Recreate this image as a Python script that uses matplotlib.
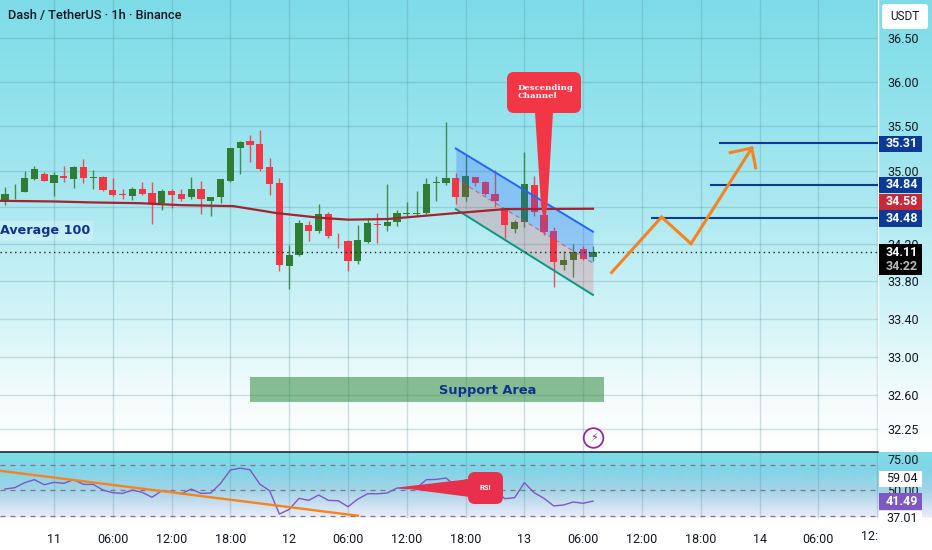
import matplotlib
matplotlib.use("Agg")
import matplotlib.pyplot as plt
from matplotlib.patches import FancyBboxPatch, Polygon, Rectangle, Circle
from matplotlib.ticker import NullLocator, NullFormatter
import numpy as np

plt.rcParams['font.family'] = ['Roboto', 'DejaVu Sans']

# candles, hour 0 = midnight of the 11th
hours = list(range(-5, 56))
opens = [34.67, 34.772, 34.768, 34.902, 34.967, 34.866, 34.945, 34.906, 35.043, 34.920,
         34.931, 34.790, 34.739, 34.717, 34.801, 34.754, 34.638, 34.775, 34.746, 34.707,
         34.801, 34.667, 34.710, 34.887, 35.249, 35.332, 35.300, 35.043, 34.859, 33.962,
         34.081, 34.403, 34.341, 34.522, 34.298, 34.233, 34.012, 34.222, 34.414, 34.396,
         34.439, 34.526, 34.522, 34.533, 34.866, 34.866, 34.913, 34.707, 34.924, 34.873,
         34.743, 34.569, 34.356, 34.439, 34.840, 34.511, 34.338, 33.972, 34.019, 34.142,
         34.059]
closes = [34.746, 34.779, 34.913, 35.018, 34.884, 34.956, 34.916, 35.043, 34.920, 34.934,
          34.786, 34.732, 34.732, 34.801, 34.746, 34.638, 34.775, 34.736, 34.689, 34.801,
          34.692, 34.714, 34.902, 35.246, 35.321, 35.282, 35.021, 34.851, 33.972, 34.074,
          34.424, 34.341, 34.519, 34.287, 34.291, 34.012, 34.244, 34.424, 34.406, 34.439,
          34.533, 34.533, 34.529, 34.848, 34.873, 34.913, 34.707, 34.938, 34.862, 34.739,
          34.660, 34.399, 34.435, 34.848, 34.544, 34.323, 33.998, 34.019, 34.113, 34.034,
          34.11]
highs = [34.819, 34.855, 35.000, 35.054, 34.989, 34.985, 35.054, 35.054, 35.126, 35.010,
         34.945, 34.916, 34.801, 34.815, 34.873, 34.873, 34.793, 34.793, 34.801, 34.934,
         34.880, 34.714, 34.902, 35.246, 35.329, 35.397, 35.452, 35.137, 34.920, 34.189,
         34.461, 34.446, 34.627, 34.540, 34.316, 34.240, 34.403, 34.475, 34.533, 34.848,
         34.562, 34.649, 34.779, 34.916, 34.938, 35.542, 34.974, 35.173, 34.931, 34.880,
         35.003, 34.576, 34.461, 35.202, 34.938, 34.667, 34.377, 34.124, 34.197, 34.178,
         34.171]
lows = [34.620, 34.685, 34.768, 34.891, 34.880, 34.717, 34.877, 34.811, 34.866, 34.801,
        34.779, 34.721, 34.692, 34.674, 34.736, 34.417, 34.566, 34.587, 34.667, 34.685,
        34.526, 34.504, 34.642, 34.873, 34.963, 35.090, 34.996, 34.736, 33.907, 33.716,
        34.070, 34.233, 34.312, 34.265, 34.150, 33.907, 33.980, 34.207, 34.204, 34.341,
        34.396, 34.504, 34.504, 34.522, 34.670, 34.837, 34.631, 34.667, 34.830, 34.728,
        34.594, 34.258, 34.312, 34.385, 34.504, 34.298, 33.734, 33.918, 33.846, 34.019,
        34.016]

ma_hours = [-5.5, 0, 4, 8.8, 12.9, 18.3, 22.7, 27.1, 30, 34, 40.6, 46, 55]
ma_values = [34.667, 34.66, 34.649, 34.641, 34.62, 34.609, 34.533, 34.482, 34.461, 34.468,
             34.529, 34.576, 34.58]

rsi_values = [51.0, 52.1, 56.0, 58.4, 54.4, 56.3, 55.5, 58.4, 54.7, 54.7,
              50.2, 48.1, 47.6, 50.2, 48.4, 44.5, 49.7, 48.9, 47.3, 51.0,
              47.6, 47.9, 55.5, 66.0, 67.5, 66.2, 54.9, 49.7, 31.3, 35.0,
              43.7, 42.1, 46.3, 42.1, 41.8, 37.1, 43.1, 47.3, 47.3, 47.9,
              51.8, 51.3, 51.8, 58.4, 58.6, 59.7, 53.4, 58.1, 57.6, 54.2,
              50.2, 43.4, 44.2, 56.0, 48.1, 43.7, 37.7, 38.5, 40.8, 39.8,
              41.49]
rsi_levels = [70, 50, 30]
rsi_trend_hours = [-5.5, 31]
rsi_trend_values = [65.4, 30.0]

# channel drawing
channel_hours = [41, 55]
channel_top = [35.245, 34.33]
channel_mid = [34.91, 33.99]
channel_bottom = [34.576, 33.65]

# target levels and projected path
level_prices = [35.31, 34.84, 34.48]
level_starts = [68.0, 67.0, 61.0]
path_hours = [56.9, 62.0, 65.0, 71.2]
path_prices = [33.89, 34.49, 34.20, 35.25]
head_hours = [69.0, 71.2, 71.6]
head_prices = [35.20, 35.25, 35.03]

support_hours = [20, 56.1]
support_low, support_high = 32.53, 32.79
last_price = 34.11

price_ticks = [36.5, 36.0, 35.5, 35.0, 34.6, 34.2, 33.8, 33.4, 33.0, 32.6, 32.25]
price_labels = ['36.50', '36.00', '35.50', '35.00', '', '34.20', '33.80', '33.40', '33.00', '32.60', '32.25']
time_ticks = list(range(0, 79, 6))
time_labels = ['11', '06:00', '12:00', '18:00', '12', '06:00', '12:00', '18:00',
               '13', '06:00', '12:00', '18:00', '14', '06:00']

RED = '#f23645'
GREEN = '#2e7d32'
NAVY = '#0d3a94'
ORANGE = '#f5841f'
TEXT = '#131722'
GRID = '#55909f'
W, H = 932, 550

fig = plt.figure(figsize=(W / 100, H / 100), dpi=100, facecolor='white')


def box(left, top, right, bottom):
    return [left / W, (H - bottom) / H, (right - left) / W, (bottom - top) / H]


# page gradient behind everything
bg = fig.add_axes([0, 0, 1, 1], zorder=0)
rows = np.arange(H)
stops_y = [0, 100, 200, 300, 400, 451, 452, 470, 490, 516, 518, 550]
stops_r = [125, 145, 170, 205, 245, 255, 125, 130, 165, 235, 255, 255]
stops_g = [220, 226, 232, 243, 252, 255, 220, 212, 212, 235, 255, 255]
stops_b = [232, 236, 240, 247, 252, 255, 232, 230, 232, 248, 255, 255]
grad = np.stack([np.interp(rows, stops_y, s) for s in (stops_r, stops_g, stops_b)], axis=1) / 255
bg.imshow(grad[:, None, :], aspect='auto', extent=(0, W, H, 0), interpolation='bilinear')
bg.axis('off')

# price panel
ax = fig.add_axes(box(0, 0, 878, 451), zorder=1, facecolor='none')
ax.set_yscale('log')
ax.set_xlim(-5.51, 84.08)
ax.set_ylim(32.03, 36.94)
ax.yaxis.set_minor_locator(NullLocator())
ax.yaxis.set_minor_formatter(NullFormatter())
ax.set_yticks(price_ticks)
ax.set_yticklabels(price_labels)
ax.yaxis.tick_right()
ax.tick_params(axis='y', length=0, pad=6.5, labelsize=9, labelcolor=TEXT)
ax.set_xticks(list(range(0, 85, 6)))
ax.tick_params(axis='x', length=0, labelbottom=False)
ax.grid(True, color=GRID, alpha=0.28, lw=1)
ax.set_axisbelow(True)
for name, sp in ax.spines.items():
    sp.set_visible(name == 'right')
ax.spines['right'].set_color('white')
ax.spines['right'].set_linewidth(1)

colors = [GREEN if c >= o else RED for o, c in zip(opens, closes)]
ax.vlines(hours, lows, highs, colors=colors, lw=1, alpha=0.85, zorder=3)
bottoms = [min(o, c) for o, c in zip(opens, closes)]
heights = [max(abs(c - o), 0.008) for o, c in zip(opens, closes)]
ax.bar(hours, heights, bottom=bottoms, width=0.72, color=colors, zorder=3)

ax.fill_between(channel_hours, channel_mid, channel_top, color='#2962ff', alpha=0.27, lw=0, zorder=4)
ax.fill_between(channel_hours, channel_bottom, channel_mid, color=RED, alpha=0.2, lw=0, zorder=4)
ax.plot(channel_hours, channel_top, color='#2962ff', lw=1.4, zorder=5)
ax.plot(channel_hours, channel_bottom, color='#089981', lw=1.4, zorder=5)
ax.plot(channel_hours, channel_mid, color=RED, lw=0.8, ls=(0, (4, 3)), alpha=0.7, zorder=5)

ax.plot(ma_hours, ma_values, color='#a5222f', lw=1.6, zorder=5)
ax.axhline(last_price, color='#222222', lw=1, ls=(0, (1, 2.5)), zorder=5)

for price, start in zip(level_prices, level_starts):
    ax.plot([start, 84.08], [price, price], color=NAVY, lw=1.5, zorder=5)
ax.plot(path_hours, path_prices, color=ORANGE, lw=2.2, zorder=6, solid_joinstyle='miter')
ax.plot(head_hours, head_prices, color=ORANGE, lw=2.2, zorder=6, solid_joinstyle='miter')

ax.fill_between(support_hours, support_low, support_high, color='#2e8b3d', alpha=0.55, lw=0, zorder=4)
ax.text(44.3, 32.645, 'Support Area', color='#12318f', fontsize=9.4,
        fontweight='bold', family='DejaVu Sans', ha='center', va='center', zorder=7)

ax.text(-5.55, 34.338, 'Average 100', color='#12318f', fontsize=9.2, fontweight='bold',
        family='DejaVu Sans', ha='left', va='center', zorder=7,
        bbox=dict(boxstyle='square,pad=0.25', fc=(1, 1, 1, 0.22), ec='none'))

fig.text(8 / W, 1 - 16 / H, 'Dash / TetherUS · 1h · Binance', color=TEXT, fontsize=9.2,
         fontweight='medium', va='center', ha='left', zorder=5)

# oscillator panel
ax2 = fig.add_axes(box(0, 452, 878, 518), zorder=1, facecolor='none')
ax2.set_xlim(ax.get_xlim())
ax2.set_ylim(28.2, 80.2)
ax2.set_xticks(time_ticks + [84])
ax2.set_xticklabels(time_labels + [''])
ax2.set_yticks([75, 50])
ax2.set_yticklabels(['75.00', '50.00'])
ax2.yaxis.tick_right()
ax2.tick_params(axis='y', length=0, pad=6.5, labelsize=9, labelcolor=TEXT)
ax2.tick_params(axis='x', length=0, pad=11, labelsize=9, labelcolor=TEXT)
ax2.grid(True, axis='x', color=GRID, alpha=0.28, lw=1)
ax2.set_axisbelow(True)
for sp in ax2.spines.values():
    sp.set_visible(False)
ax2.spines['top'].set_visible(True)
ax2.spines['top'].set_color(TEXT)
ax2.spines['top'].set_linewidth(1.1)
for lvl in rsi_levels:
    ax2.axhline(lvl, color='#787b86', lw=0.9, ls=(0, (4, 4)), zorder=2)
ax2.plot(hours, rsi_values, color='#7e57c2', lw=1, zorder=3)
ax2.plot(rsi_trend_hours, rsi_trend_values, color=ORANGE, lw=1.7, zorder=4)

# labels and callouts on top, in picture pixels
px = fig.add_axes([0, 0, 1, 1], zorder=5, facecolor='none')
px.set_xlim(0, W)
px.set_ylim(H, 0)
px.axis('off')


def tag(top, bottom, text, fc, color='white', weight='bold'):
    px.add_patch(Rectangle((879, top), 43, bottom - top, fc=fc, ec='none'))
    px.text(902, (top + bottom) / 2, text, color=color, fontsize=9, fontweight=weight, ha='center', va='center')


tag(135.5, 152, '35.31', NAVY)
tag(177, 193, '34.84', NAVY)
tag(194, 209.5, '34.58', '#c62a3a')
tag(210, 227, '34.48', NAVY)
px.add_patch(Rectangle((879, 244), 43, 31, fc='black', ec='none'))
px.text(902, 253, '34.11', color='white', fontsize=9, fontweight='bold', ha='center', va='center')
px.text(902, 266.5, '34:22', color='#b8b8b8', fontsize=9, fontweight='bold', ha='center', va='center')
tag(470.7, 486.7, '59.04', 'white', TEXT, 'normal')
tag(493, 509.7, '41.49', '#7e57c2')
tag(510.5, 526, '37.01', 'white', TEXT, 'normal')

px.add_patch(FancyBboxPatch((882, 4), 46, 25, boxstyle='round,pad=0,rounding_size=3', fc='white', ec='none'))
px.text(905, 17, 'USDT', color=TEXT, fontsize=8.5, ha='center', va='center')

px.text(878, 536, '12:', color=TEXT, fontsize=9, ha='right', va='center')

# descending channel callout
px.add_patch(Polygon([(535, 112), (553, 112), (547.5, 205), (544.5, 224), (541, 205)], fc=RED, ec='none'))
px.add_patch(FancyBboxPatch((507, 72), 74, 41, boxstyle='round,pad=0,rounding_size=7', fc=RED, ec='none'))
px.text(517.5, 92, 'Descending\nChannel', color='white', fontsize=6.1, fontweight='bold',
        family='DejaVu Serif', ha='left', va='center', linespacing=1.0)

# rsi callout
px.add_patch(Polygon([(397, 487.5), (470, 479), (470, 497)], fc='#e8304c', ec='none'))
px.add_patch(FancyBboxPatch((468, 472), 35, 32, boxstyle='round,pad=0,rounding_size=7', fc='#e8304c', ec='none'))
px.text(485.5, 488, 'RSI', color='white', fontsize=5.5, fontweight='bold', ha='center', va='center')

# flash icon
px.add_patch(Circle((593.5, 438), 9.8, fc='white', ec='#8e2aa6', lw=1.3))
px.text(593.5, 438, '\u26a1', color='#8e2aa6', fontsize=8, family='DejaVu Sans', ha='center', va='center')

fig.savefig('out.png', dpi=100)
